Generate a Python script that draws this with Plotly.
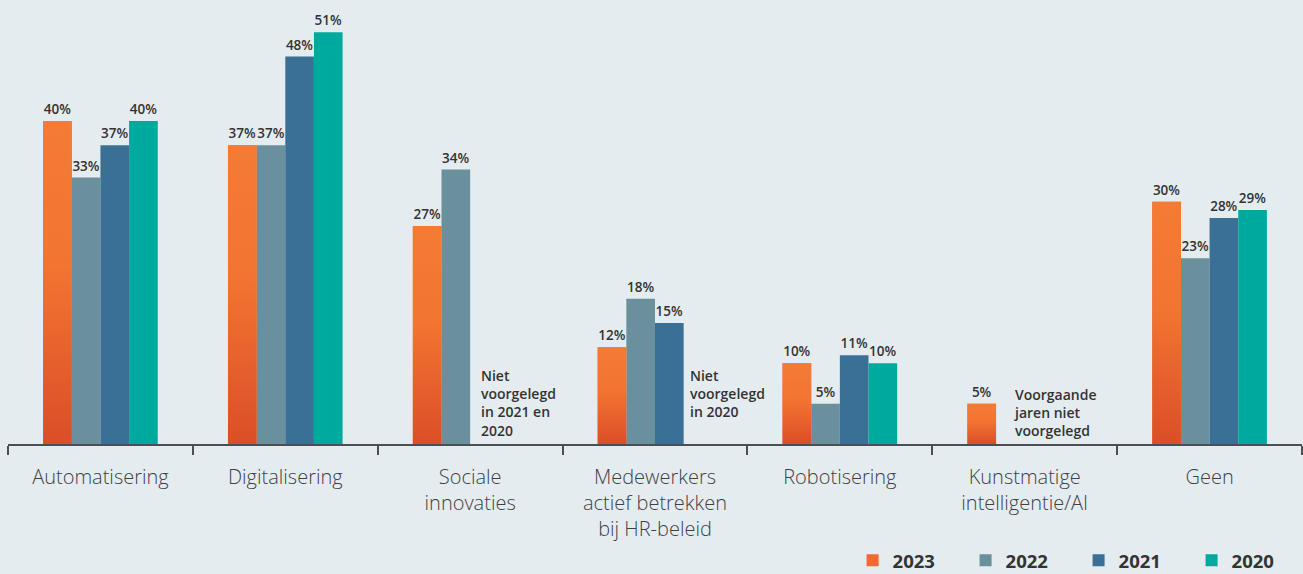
import plotly.graph_objects as go

categories = [
    "Automatisering",
    "Digitalisering",
    "Sociale<br>innovaties",
    "Medewerkers<br>actief betrekken<br>bij HR-beleid",
    "Robotisering",
    "Kunstmatige<br>intelligentie/AI",
    "Geen",
]
years = ["2023", "2022", "2021", "2020"]
values_2023 = [40, 37, 27, 12, 10, 5, 30]
values_2022 = [33, 37, 34, 18, 5, None, 23]
values_2021 = [37, 48, None, 15, 11, None, 28]
values_2020 = [40, 51, None, None, 10, None, 29]
series = [values_2023, values_2022, values_2021, values_2020]
colors = ["#f0692f", "#6a8f9d", "#3a7096", "#00a99d"]
orange_scale = [[0, "#db4e28"], [0.55, "#f27431"], [1, "#f47b35"]]

notes = [
    (2, "Niet<br>voorgelegd<br>in 2021 en<br>2020"),
    (3, "Niet<br>voorgelegd<br>in 2020"),
    (5, "Voorgaande<br>jaren niet<br>voorgelegd"),
]

BG = "#e5ecef"
TEXT = "#333333"
FONT = "'Open Sans', Lato, sans-serif"
BARGAP = 0.38

fig = go.Figure()
for year, vals, col in zip(years, series, colors):
    fig.add_trace(go.Bar(
        name=year,
        x=categories,
        y=vals,
        marker=dict(color=col, line=dict(width=0)),
        text=[f"{v}%" if v is not None else "" for v in vals],
        textposition="outside",
        textfont=dict(family=FONT, size=13.5, color=TEXT, weight=600),
        cliponaxis=False,
        hoverinfo="skip",
    ))

# vertical gradient fill for the 2023 bars, one polygon per bar on an overlaid axis
bar_w = (1 - BARGAP) / len(years)
for i, v in enumerate(values_2023):
    if v is None:
        continue
    x0 = i - (1 - BARGAP) / 2
    x1 = x0 + bar_w
    fig.add_trace(go.Scatter(
        x=[x0, x0, x1, x1, x0], y=[0, v, v, 0, 0],
        xaxis="x2", mode="lines", fill="toself",
        line=dict(width=0),
        fillgradient=dict(type="vertical", colorscale=orange_scale, start=0, stop=v),
        showlegend=False, hoverinfo="skip",
    ))

note_pos = {2: (2.05, 9.9), 3: (3.18, 9.9), 5: (4.93, 7.5)}
for idx, txt in notes:
    nx, ny = note_pos[idx]
    fig.add_annotation(
        x=nx, y=ny, xref="x", yref="y",
        text=txt, showarrow=False, align="left",
        xanchor="left", yanchor="top",
        font=dict(family=FONT, size=14, color=TEXT, weight=600),
    )

fig.update_layout(
    width=1303, height=574,
    paper_bgcolor=BG, plot_bgcolor=BG,
    margin=dict(l=8, r=1, t=0, b=130, autoexpand=False),
    barmode="group",
    bargap=BARGAP,
    bargroupgap=0,
    showlegend=True,
    legend=dict(
        orientation="h",
        x=1.002, xanchor="right",
        y=-0.263, yanchor="middle",
        font=dict(family=FONT, size=18.5, color=TEXT, weight=700),
        bgcolor="rgba(0,0,0,0)",
        entrywidth=68,
        itemclick=False, itemdoubleclick=False,
    ),
    font=dict(family=FONT, color=TEXT),
    xaxis2=dict(overlaying="x", range=[-0.5, 6.5], visible=False, fixedrange=True),
)
fig.layout.xaxis.update(
    type="category",
    range=[-0.5, 6.5],
    automargin=False,
    showline=True, linecolor="#4a4f55", linewidth=2,
    ticks="outside", tickson="boundaries", ticklen=9, tickwidth=2, tickcolor="#4a4f55",
    tickfont=dict(family=FONT, size=20, color="#3d4247", weight=300),
    ticklabelstandoff=14,
    showgrid=False, zeroline=False,
)
fig.update_yaxes(range=[0, 55], visible=False, showgrid=False, zeroline=False)

fig.write_html("out.html")
